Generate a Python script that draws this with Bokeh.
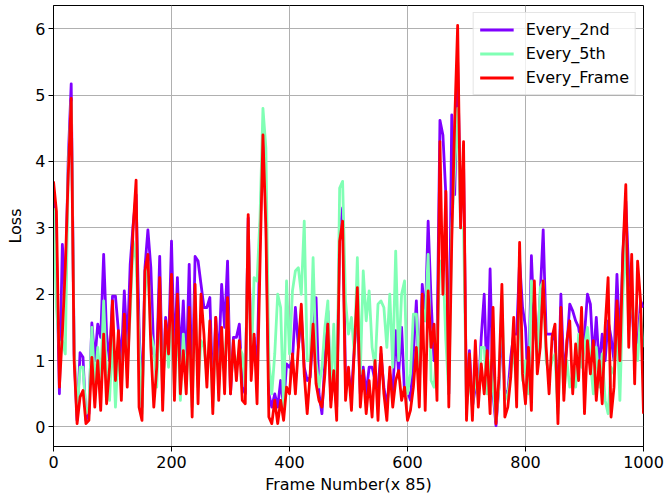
from bokeh.plotting import figure
from bokeh.models import Range1d, FixedTicker, Legend, LegendItem
from bokeh.embed import file_html
from bokeh.resources import INLINE

frames = list(range(0, 1001, 5))

every_frame = [
    3.7, 3.25, 0.6, 1.4, 2.4, 3.8, 4.95, 1.0, 0.05, 0.45,
    0.55, 0.05, 0.1, 1.05, 0.3, 1.0, 0.25, 1.4, 0.35, 0.9,
    1.9, 0.7, 1.45, 0.4, 1.7, 0.6, 1.9, 3.0, 3.72, 0.3,
    0.1, 2.35, 2.6, 1.2, 0.3, 0.9, 2.25, 0.25, 1.6, 1.1,
    2.3, 0.4, 2.0, 0.5, 1.15, 0.5, 1.8, 0.15, 2.15, 0.35,
    2.0, 1.4, 0.6, 1.6, 0.2, 1.65, 0.4, 1.5, 0.5, 1.95,
    0.5, 1.3, 0.7, 1.3, 0.4, 0.35, 3.2, 0.7, 1.4, 0.35,
    2.45, 4.4, 3.0, 0.15, 0.05, 0.4, 0.05, 0.4, 0.1, 0.6,
    0.5, 1.1, 0.5, 1.2, 1.85, 0.8, 0.2, 0.8, 1.55, 0.65,
    0.4, 0.3, 0.8, 1.55, 0.3, 0.85, 0.1, 2.8, 3.1, 0.4,
    0.9, 0.25, 1.2, 2.1, 0.3, 0.85, 0.2, 0.7, 0.15, 1.0,
    0.1, 1.2, 0.5, 0.1, 0.9, 0.3, 0.7, 0.85, 0.4, 0.6,
    0.1, 0.25, 0.6, 1.2, 0.3, 2.0, 0.25, 2.05, 1.2, 1.55,
    0.4, 4.3, 2.0, 3.55, 0.3, 2.8, 4.6, 6.05, 3.0, 4.3,
    0.1, 1.1, 0.1, 1.3, 0.3, 0.95, 0.5, 1.15, 0.2, 1.8,
    0.05, 0.75, 2.15, 0.15, 0.3, 0.75, 1.65, 0.3, 2.78, 0.8,
    0.35, 1.2, 0.25, 2.2, 0.8, 1.2, 2.2, 1.2, 0.5, 1.35,
    1.55, 0.05, 1.8, 0.4, 1.3, 1.6, 0.5, 1.25, 0.7, 1.8,
    0.2, 1.3, 0.8, 1.3, 0.4, 1.0, 0.35, 1.5, 2.25, 0.15,
    0.6, 1.9, 1.0, 2.6, 3.65, 1.2, 2.6, 0.65, 2.5, 1.9,
    0.2,
]

every_2nd = [
    3.6, 2.7, 0.5, 2.75, 2.0, 4.05, 5.17, 1.1, 0.1, 1.12,
    1.05, 0.1, 0.2, 1.57, 1.0, 1.55, 1.35, 2.6, 1.4, 1.0,
    1.97, 1.97, 1.45, 1.0, 2.05, 1.2, 2.45, 3.05, 3.5, 1.5,
    0.3, 2.4, 2.97, 2.4, 1.1, 1.0, 2.57, 0.5, 1.65, 1.2,
    2.8, 1.0, 2.25, 1.0, 1.9, 0.8, 2.45, 0.5, 2.57, 2.5,
    2.15, 1.8, 1.8, 1.95, 0.5, 1.65, 1.0, 2.15, 1.5, 2.5,
    0.5, 1.35, 1.35, 1.55, 0.6, 0.5, 3.15, 1.0, 1.35, 0.8,
    2.9, 4.3, 3.3, 0.5, 0.3, 0.5, 0.3, 0.7, 0.3, 0.95,
    0.9, 1.0, 1.8, 1.2, 1.7, 0.9, 0.7, 0.75, 1.4, 1.95,
    0.5, 0.2, 1.0, 1.75, 0.4, 0.8, 0.3, 2.9, 3.3, 0.7,
    0.8, 0.5, 1.2, 1.8, 0.5, 0.9, 0.5, 0.9, 0.9, 0.7,
    0.6, 1.1, 0.6, 0.3, 0.8, 0.5, 1.45, 0.8, 1.5, 0.5,
    0.55, 0.4, 1.1, 1.9, 0.6, 2.15, 1.6, 3.1, 1.9, 1.0,
    1.2, 4.62, 4.4, 3.5, 0.5, 4.7, 3.5, 5.5, 3.2, 4.0,
    0.3, 1.15, 0.3, 0.6, 0.5, 1.35, 2.0, 0.6, 2.38, 0.5,
    0.02, 0.6, 1.5, 0.55, 0.5, 1.05, 1.4, 1.4, 2.5, 1.8,
    1.5, 0.6, 2.58, 1.5, 1.2, 2.0, 2.97, 1.4, 1.4, 1.4,
    1.3, 0.3, 2.0, 0.8, 1.2, 1.85, 1.75, 1.6, 1.5, 1.2,
    1.4, 2.0, 1.85, 1.0, 1.65, 0.9, 1.4, 1.0, 1.6, 1.35,
    1.0, 2.3, 1.2, 2.6, 3.4, 2.3, 2.0, 1.0, 1.2, 1.9,
    1.8,
]

every_5th = [
    3.3, 1.8, 1.2, 1.3, 1.1, 3.9, 4.9, 1.2, 0.2, 0.9,
    0.9, 0.2, 0.3, 1.5, 0.6, 1.2, 0.7, 1.9, 0.8, 0.4,
    1.4, 0.3, 1.2, 0.6, 1.5, 0.9, 1.7, 2.8, 2.5, 1.3,
    0.2, 2.0, 2.5, 1.4, 1.2, 0.6, 1.9, 0.5, 1.5, 0.9,
    2.0, 0.6, 1.6, 0.4, 1.4, 0.7, 1.3, 0.3, 2.0, 0.6,
    1.3, 1.2, 0.8, 1.4, 0.3, 1.5, 0.6, 1.3, 0.8, 1.8,
    0.7, 1.1, 0.9, 1.2, 1.1, 0.6, 3.0, 0.9, 2.25, 2.2,
    3.15, 4.8, 4.2, 1.0, 0.5, 1.1, 2.0, 1.8, 0.3, 2.2,
    1.1, 2.05, 2.35, 2.4, 2.0, 3.1, 1.0, 1.0, 2.55, 1.0,
    0.6, 0.9, 1.5, 1.9, 0.5, 1.55, 0.3, 3.6, 3.7, 1.9,
    1.4, 1.65, 1.1, 2.55, 0.8, 2.35, 1.6, 2.05, 1.2, 0.9,
    1.85, 1.9, 1.8, 1.2, 2.0, 0.9, 2.65, 1.0, 2.0, 2.2,
    0.5, 0.8, 1.7, 1.7, 0.9, 1.8, 1.6, 2.6, 0.7, 0.6,
    1.2, 2.5, 2.5, 1.3, 0.5, 3.0, 3.9, 4.8, 3.0, 3.0,
    0.3, 0.75, 0.3, 0.8, 0.4, 1.2, 1.2, 0.5, 1.0, 0.6,
    0.1, 0.6, 2.0, 0.4, 0.5, 0.8, 1.2, 0.55, 2.0, 0.7,
    1.0, 0.5, 2.2, 1.8, 1.0, 2.1, 2.2, 1.0, 0.8, 1.0,
    1.1, 0.2, 1.5, 0.5, 1.0, 0.6, 0.8, 0.6, 1.4, 0.9,
    1.2, 1.5, 1.0, 0.5, 1.2, 0.6, 1.1, 0.4, 0.2, 0.9,
    0.8, 1.6, 0.4, 2.0, 2.8, 1.5, 2.0, 1.4, 1.0, 1.7,
    1.2,
]

series_names = ["Every_2nd", "Every_5th", "Every_Frame"]
series_colors = ["#8000ff", "#80ffb4", "#ff0000"]
x_ticks = [0, 200, 400, 600, 800, 1000]
y_ticks = [0, 1, 2, 3, 4, 5, 6]

FONT = "DejaVu Sans"
FS = "16px"

p = figure(width=666, height=498, output_backend="svg", toolbar_location=None,
           x_range=Range1d(0, 1000), y_range=Range1d(-0.294, 6.35),
           min_border_left=53, min_border_right=23, min_border_top=5,
           min_border_bottom=52)
p.background_fill_color = "white"
p.border_fill_color = "white"
p.outline_line_color = "black"
p.outline_line_width = 1

renderers = []
for vals, name, col in zip([every_2nd, every_5th, every_frame], series_names, series_colors):
    r = p.line(frames, vals, line_color=col, line_width=2.8, line_join="round")
    renderers.append(r)

for ax in (p.xaxis[0], p.yaxis[0]):
    ax.axis_line_color = "black"
    ax.major_tick_line_color = "black"
    ax.major_tick_out = 5
    ax.major_tick_in = 0
    ax.minor_tick_line_color = None
    ax.major_label_text_font = FONT
    ax.major_label_text_font_size = FS
    ax.major_label_text_color = "black"
    ax.axis_label_text_font = FONT
    ax.axis_label_text_font_size = FS
    ax.axis_label_text_font_style = "normal"
    ax.axis_label_text_color = "black"

p.xaxis.ticker = FixedTicker(ticks=x_ticks)
p.yaxis.ticker = FixedTicker(ticks=y_ticks)
p.xaxis.axis_label = "Frame Number(x 85)"
p.yaxis.axis_label = "Loss"
p.xaxis.major_label_standoff = 4
p.xaxis.axis_label_standoff = 4
p.yaxis.major_label_standoff = 3
p.yaxis.axis_label_standoff = 7

p.xgrid.grid_line_color = "#b0b0b0"
p.ygrid.grid_line_color = "#b0b0b0"
p.xgrid.grid_line_width = 1
p.ygrid.grid_line_width = 1

legend = Legend(items=[LegendItem(label=n, renderers=[r]) for n, r in zip(series_names, renderers)],
                location="top_right")
legend.margin = 7
legend.padding = 6
legend.spacing = 3
legend.glyph_width = 34
legend.glyph_height = 21
legend.label_height = 21
legend.label_standoff = 12
legend.label_text_font = FONT
legend.label_text_font_size = FS
legend.label_text_color = "black"
legend.border_line_color = "#cccccc"
legend.border_line_width = 1
legend.background_fill_color = "white"
legend.background_fill_alpha = 0.8
p.add_layout(legend, "center")

open("out.html", "w").write(file_html(p, INLINE))
